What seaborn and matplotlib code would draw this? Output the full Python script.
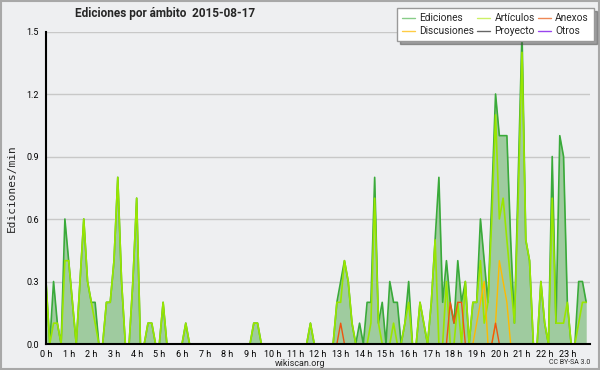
import numpy as np
import pandas as pd
import matplotlib
matplotlib.use("Agg")
import matplotlib.pyplot as plt
import seaborn as sns
from matplotlib.patches import Rectangle
from matplotlib.ticker import MultipleLocator, FixedLocator
from matplotlib.lines import Line2D

# ---- data: edits/min per 10-minute bin (144 bins over the day) ----
ediciones = [
    0.3, 0, 0.3, 0.1, 0, 0.6, 0.4, 0.2, 0, 0.3, 0.6, 0.3,
    0.2, 0.2, 0, 0, 0.2, 0.2, 0.4, 0.8, 0.3, 0, 0, 0.3,
    0.7, 0, 0, 0.1, 0.1, 0, 0, 0.2, 0, 0, 0, 0,
    0, 0.1, 0, 0, 0, 0, 0, 0, 0, 0, 0, 0,
    0, 0, 0, 0, 0, 0, 0, 0.1, 0.1, 0, 0, 0,
    0, 0, 0, 0, 0, 0, 0, 0, 0, 0, 0.1, 0,
    0, 0, 0, 0, 0, 0.2, 0.3, 0.4, 0.3, 0.1, 0, 0.1,
    0, 0.2, 0.2, 0.8, 0.1, 0.2, 0, 0.3, 0.2, 0.2, 0, 0.1,
    0.3, 0, 0, 0.2, 0.1, 0, 0.2, 0.5, 0.8, 0.2, 0.4, 0.2,
    0.1, 0.4, 0.2, 0.3, 0, 0.2, 0.2, 0.6, 0.4, 0.2, 0.7, 1.2,
    1.0, 1.0, 1.0, 0.5, 0.1, 0.8, 1.5, 0.5, 0.4, 0, 0, 0.3,
    0.1, 0, 0.9, 0.1, 1.0, 0.9, 0.2, 0, 0, 0.3, 0.3, 0.2,
]
articulos = [
    0.3, 0, 0.1, 0.1, 0, 0.4, 0.4, 0.2, 0, 0.3, 0.6, 0.3,
    0.2, 0.1, 0, 0, 0.2, 0.2, 0.4, 0.8, 0.3, 0, 0, 0.3,
    0.7, 0, 0, 0.1, 0.1, 0, 0, 0.2, 0, 0, 0, 0,
    0, 0.1, 0, 0, 0, 0, 0, 0, 0, 0, 0, 0,
    0, 0, 0, 0, 0, 0, 0, 0.1, 0.1, 0, 0, 0,
    0, 0, 0, 0, 0, 0, 0, 0, 0, 0, 0.1, 0,
    0, 0, 0, 0, 0, 0.2, 0.2, 0.4, 0.3, 0.1, 0, 0,
    0, 0, 0.1, 0.7, 0.1, 0, 0, 0, 0.1, 0, 0, 0.1,
    0.2, 0, 0, 0.2, 0.1, 0, 0.2, 0.5, 0, 0, 0.3, 0,
    0, 0.2, 0, 0.3, 0, 0.2, 0.2, 0.4, 0.1, 0.2, 0.6, 1.1,
    0.6, 0.7, 0.5, 0.3, 0.1, 0.7, 1.4, 0.5, 0.4, 0, 0, 0.3,
    0.1, 0, 0.7, 0.1, 0.1, 0.1, 0.2, 0, 0, 0.1, 0.2, 0.2,
]
anexos_idx = [78, 107, 108, 109, 110, 119]
anexos_val = [0.1, 0.2, 0.1, 0.2, 0.2, 0.1]
discusiones_idx = [114, 115, 116, 119, 120, 121, 122]
discusiones_val = [0.1, 0.2, 0.3, 0.1, 0.4, 0.3, 0.2]
hour_labels = [f"{h} h" for h in range(24)]

n = len(ediciones)
hours = np.arange(n) / 6.0
anexos = np.zeros(n); anexos[anexos_idx] = anexos_val
discusiones = np.zeros(n); discusiones[discusiones_idx] = discusiones_val
proyecto = np.zeros(n)
otros = np.zeros(n)

df = pd.DataFrame({"h": hours, "Ediciones": ediciones, "Artículos": articulos,
                   "Anexos": anexos, "Discusiones": discusiones,
                   "Proyecto": proyecto, "Otros": otros})

sns.set_style("white")
plt.rcParams["font.family"] = ["Roboto", "DejaVu Sans"]

BG = "#eeeff1"
fig = plt.figure(figsize=(6.0, 3.7), dpi=100, facecolor=BG)
ax = fig.add_axes([46/600, 1-344/370, (590-46)/600, (344-31.5)/370])
ax.set_facecolor(BG)

fig.patches.append(Rectangle((0.002, 0.003), 0.996, 0.994, transform=fig.transFigure,
                             fill=False, edgecolor="#a8a8a8", linewidth=1.5))

ax.fill_between(df["h"], df["Ediciones"], 0, color="#9fcb9f", linewidth=0, zorder=2)
line_styles = [
    ("Proyecto", "#555555", 1.0),
    ("Otros", "#9933ee", 1.0),
    ("Ediciones", "#3aaa3a", 1.2),
    ("Anexos", "#ee5511", 1.0),
    ("Discusiones", "#ffbb00", 1.0),
    ("Artículos", "#99e600", 1.2),
]
zo = {"Proyecto": 3, "Otros": 3, "Ediciones": 4, "Artículos": 5, "Discusiones": 6, "Anexos": 7}
for name, col, lw in line_styles:
    sns.lineplot(data=df, x="h", y=name, ax=ax, color=col, linewidth=lw,
                 zorder=zo[name], legend=False)

ax.set_xlim(0, 24)
ax.set_ylim(0, 1.5)
ax.yaxis.set_major_locator(FixedLocator([0, 0.3, 0.6, 0.9, 1.2, 1.5]))
ax.yaxis.set_minor_locator(MultipleLocator(0.075))
ax.set_yticklabels(["0.0", "0.3", "0.6", "0.9", "1.2", "1.5"])
ax.xaxis.set_major_locator(FixedLocator(list(range(24))))
ax.xaxis.set_minor_locator(MultipleLocator(1/6))
ax.set_xticklabels(hour_labels)
ax.tick_params(axis="both", which="major", labelsize=6.5, length=4, width=1,
               direction="out", colors="black", pad=1)
ax.tick_params(axis="both", which="minor", length=3, width=1, direction="out")
ax.tick_params(axis="x", which="major", labelsize=6.5, pad=0)
ax.grid(axis="y", color="#c8c8c8", linewidth=1, zorder=1)
ax.set_axisbelow(True)
for s in ["top", "right"]:
    ax.spines[s].set_visible(False)
for s in ["left", "bottom"]:
    ax.spines[s].set_color("black")
    ax.spines[s].set_linewidth(1.5)
    ax.spines[s].set_zorder(10)
ax.set_xlabel("")
ax.set_ylabel("Ediciones/min", fontsize=8, labelpad=7, family=["DejaVu Sans Mono", "DejaVu Sans"])

fig.text(75/600, 1-14/370, "Ediciones por ámbito  2015-08-17", fontsize=8.5,
         fontweight="bold", ha="left", va="center")
fig.text(300/600, 1-363/370, "wikiscan.org", fontsize=6.5, ha="center", va="center")
fig.text(590/600, 1-362/370, "CC BY-SA 3.0", fontsize=5, ha="right", va="center")

leg_cols = {"Ediciones": "#88cc88", "Artículos": "#ccf066", "Anexos": "#ee8855",
            "Discusiones": "#ffcc44", "Proyecto": "#666666", "Otros": "#9944ee"}
order = ["Ediciones", "Discusiones", "Artículos", "Proyecto", "Anexos", "Otros"]
handles = [Line2D([], [], color=leg_cols[k], linewidth=1) for k in order]
leg = fig.legend(handles, order, loc="upper right", bbox_to_anchor=(594/600, 1-8/370),
                 ncol=3, fontsize=7.3, frameon=True, fancybox=False, shadow=True,
                 handlelength=1.3, handletextpad=0.4, columnspacing=0.3,
                 labelspacing=0.3, borderpad=0.5, borderaxespad=0)
leg.get_frame().set_edgecolor("#999999")
leg.get_frame().set_linewidth(1)
leg.get_frame().set_facecolor("white")

fig.savefig("out.png", dpi=100, facecolor=BG)
